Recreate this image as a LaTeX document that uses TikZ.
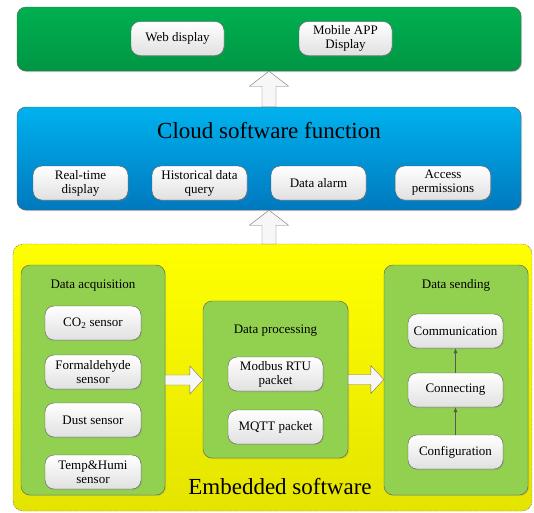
\documentclass[tikz,border=0pt]{standalone}
\usepackage{fontspec}
\setmainfont{Liberation Serif}
\usetikzlibrary{arrows.meta,calc,shadows}
\definecolor{appgreen}{RGB}{0,176,80}
\definecolor{appgreendk}{RGB}{0,150,68}
\definecolor{cloudblue}{RGB}{0,178,238}
\definecolor{cloudbluedk}{RGB}{0,120,190}
\definecolor{embyellow}{RGB}{255,255,0}
\definecolor{embyellowdk}{RGB}{228,228,0}
\definecolor{grpgreen}{RGB}{146,208,80}
\tikzset{%
  >={Latex[width=4pt,length=5pt]},
         base/.style = {rectangle, rounded corners=9pt, draw=black!65,
                        align=center, font=\fontsize{13}{14}\selectfont},
        layer/.style = {base, minimum width=504pt,
                        drop shadow={opacity=0.35, shadow xshift=1pt, shadow yshift=-1pt}},
   appslayer/.style = {layer, minimum height=64pt, top color=appgreen, bottom color=appgreendk},
  cloudlayer/.style = {layer, minimum height=103pt, top color=cloudblue, bottom color=cloudbluedk},
        group/.style = {base, minimum width=144pt, fill=grpgreen,
                        drop shadow={opacity=0.3, shadow xshift=1pt, shadow yshift=-1pt}},
         item/.style = {base, minimum width=95pt, minimum height=34pt, inner sep=1pt,
                        top color=white, bottom color=black!12,
                        drop shadow={opacity=0.3, shadow xshift=1pt, shadow yshift=-1pt}},
        title/.style = {font=\fontsize{13}{14}\selectfont},
      bigtitle/.style = {font=\fontsize{23}{26}\selectfont, anchor=base},
       hollow/.style n args={3}{draw=black!55, fill=black!3, line join=miter,
         to path={($(\tikztostart)!#1!90:(\tikztotarget)$)
           -- ($(\tikztotarget)!#3!(\tikztostart)!#1!90:(\tikztotarget)$)
           -- ($(\tikztotarget)!#3!(\tikztostart)!#2!90:(\tikztotarget)$)
           -- (\tikztotarget)
           -- ($(\tikztotarget)!#3!(\tikztostart)!#2!-90:(\tikztotarget)$)
           -- ($(\tikztotarget)!#3!(\tikztostart)!#1!-90:(\tikztotarget)$)
           -- ($(\tikztostart)!#1!-90:(\tikztotarget)$) -- cycle}},
}

\begin{document}
\begin{tikzpicture}[x=1pt, y=-1pt]
  \fill[white] (0,0) rectangle (534,512);
  \useasboundingbox (0,0) rectangle (534,512);

  % embedded layer
  \draw[rounded corners=10pt, dashed, dash pattern=on 1.5pt off 1pt, draw=black!60,
        top color=embyellow, bottom color=embyellowdk]
        (13,244) rectangle (532,511);
  \coordinate (embtop) at (269,244);

  % application layer
  \node (apps)   [appslayer]  at (269,39)    {};
  \node (web)    [item, minimum width=93pt] at (177.5,38.5) {Web display};
  \node (mobile) [item, minimum width=93pt] at (345.5,38.5) {Mobile APP\\Display};

  % cloud layer
  \node (cloud)     [cloudlayer] at (269,158.5) {};
  \node (cloudname) [bigtitle]   at (269,138)   {Cloud software function};
  \node (realtime)  [item] at (80.5,183)  {Real-time\\display};
  \node (history)   [item] at (199.5,183) {Historical data\\query};
  \node (alarm)     [item] at (318.5,183) {Data alarm};
  \node (access)    [item] at (443,183)   {Access\\permissions};

  % embedded groups
  \node (acq)     [group, minimum height=230pt] at (93,380)      {};
  \node (acqname) [title] at (93,286) {Data acquisition};
  \node (co2)     [item, minimum width=96pt] at (93,323) {CO\textsubscript{2} sensor};
  \node (hcho)    [item, minimum width=96pt] at (93,372) {Formaldehyde\\sensor};
  \node (dust)    [item, minimum width=96pt] at (93,420) {Dust sensor};
  \node (temp)    [item, minimum width=96pt] at (93,472) {Temp\&Humi\\sensor};

  \node (proc)     [group, minimum width=145pt, minimum height=157pt] at (275.5,379.5) {};
  \node (procname) [title] at (275.5,331) {Data processing};
  \node (modbus)   [item] at (275.5,374) {Modbus RTU\\packet};
  \node (mqtt)     [item] at (275.5,427) {MQTT packet};

  \node (send)     [group, minimum height=230pt] at (456,380) {};
  \node (sendname) [title] at (456,285) {Data sending};
  \node (comm)     [item] at (455.5,331) {Communication};
  \node (connect)  [item] at (455.5,390) {Connecting};
  \node (config)   [item] at (455.5,452) {Configuration};

  \node (embname) [bigtitle] at (280,494) {Embedded software};

  % connectors
  \draw[hollow={7pt}{19.5pt}{15pt}] (cloud.north) to (apps.south);
  \draw[hollow={7pt}{19.5pt}{15pt}] (embtop) to (cloud.south);
  \draw[hollow={5pt}{14pt}{13pt}] (acq.east) to (acq.east -| proc.west);
  \draw[hollow={5pt}{14pt}{13pt}] (proc.east) to (proc.east -| send.west);
  \draw[->, black!65] (config) -- (connect);
  \draw[->, black!65] (connect) -- (comm);
\end{tikzpicture}
\end{document}
